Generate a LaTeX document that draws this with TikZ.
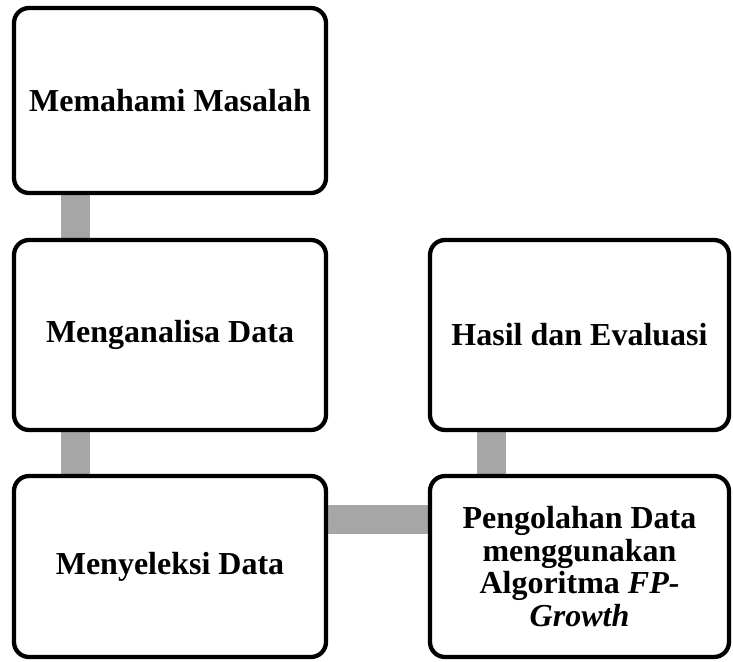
\documentclass[tikz,border=0pt]{standalone}
\usepackage{fontspec}
\setmainfont{Liberation Serif}
\usetikzlibrary{backgrounds}
\begin{document}
\begin{tikzpicture}[x=1pt,y=-1pt,
  stepbox/.style={draw=black,line width=4.3pt,rounded corners=15pt,fill=white,
    inner sep=0pt,align=center,font=\bfseries\fontsize{32}{32.5}\selectfont},
  bar/.style={draw=bargray,line width=29pt}]
\definecolor{bargray}{HTML}{A6A6A6}
\useasboundingbox (0,0) rectangle (733,661);
\node[stepbox,minimum width=312pt,minimum height=185pt] (b1) at (170,100.5) {Memahami Masalah};
\node[stepbox,minimum width=312pt,minimum height=190pt] (b2) at (170,335) {Menganalisa Data};
\node[stepbox,minimum width=312pt,minimum height=181pt] (b3) at (170,566.5) {Menyeleksi Data};
\node[stepbox,minimum width=299pt,minimum height=190pt] (b4) at (579.5,335) {Hasil dan Evaluasi};
\node[stepbox,minimum width=299pt,minimum height=181pt] (b5) at (579.5,566.5) {Pengolahan Data\\ menggunakan\\ Algoritma \textit{FP-}\\ \textit{Growth}};
\begin{scope}[on background layer]
\draw[bar] ([xshift=63.5pt]b1.south west) -- ([xshift=63.5pt]b2.north west);
\draw[bar] ([xshift=63.5pt]b2.south west) -- ([xshift=63.5pt]b3.north west);
\draw[bar] ([xshift=63.5pt]b4.south west) -- ([xshift=63.5pt]b5.north west);
\draw[bar] ([yshift=-45.5pt]b3.north east) -- ([yshift=-45.5pt]b5.north west);
\end{scope}
\end{tikzpicture}
\end{document}
